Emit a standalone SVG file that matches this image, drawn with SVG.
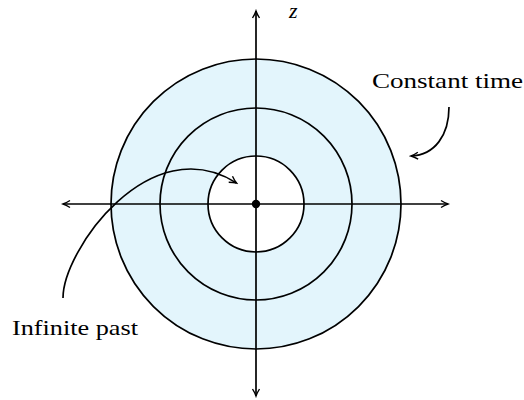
<svg xmlns="http://www.w3.org/2000/svg" width="524" height="400" viewBox="0 0 524 400">
<style>
.ln{fill:none;stroke:#000;stroke-width:1.7}
.lbl{font-family:"Liberation Serif","DejaVu Serif",serif;font-size:22px;fill:#000}
</style>
<defs>
<marker id="ah" viewBox="0 0 10 10" refX="8" refY="5" markerWidth="10" markerHeight="10" markerUnits="userSpaceOnUse" orient="auto-start-reverse">
<path d="M1,1.5 Q5,4 8,5 Q5,6 1,8.5" fill="none" stroke="#000" stroke-width="1.4"/>
</marker>
</defs>
<g id="rings">
<path d="M111,204 a145,145 0 1,0 290,0 a145,145 0 1,0 -290,0 Z M208,204 a48,48 0 1,1 96,0 a48,48 0 1,1 -96,0 Z" fill="#e3f5fc" fill-rule="evenodd"/>
<circle class="ln" cx="256" cy="204" r="145"/>
<circle class="ln" cx="256" cy="204" r="96"/>
<circle class="ln" cx="256" cy="204" r="48"/>
</g>
<g id="connectors">
<line class="ln" x1="256" y1="396" x2="256" y2="11" marker-end="url(#ah)" marker-start="url(#ah)"/>
<line class="ln" x1="63" y1="204" x2="448" y2="204" marker-end="url(#ah)" marker-start="url(#ah)"/>
<path class="ln" d="M63,298 C63,250 150,128 236.5,183" marker-end="url(#ah)"/>
<path class="ln" d="M449,107 C449,135 435,155 411,156" marker-end="url(#ah)"/>
</g>
<g id="origin"><circle cx="256" cy="204" r="4.2" fill="#000"/></g>
<g id="z-label"><text class="lbl" x="289" y="18" font-style="italic" font-size="19">z</text></g>
<g id="constant-time"><text class="lbl" x="372" y="88" textLength="151" lengthAdjust="spacingAndGlyphs">Constant time</text></g>
<g id="infinite-past"><text class="lbl" x="12" y="335" textLength="126" lengthAdjust="spacingAndGlyphs">Infinite past</text></g>
</svg>
